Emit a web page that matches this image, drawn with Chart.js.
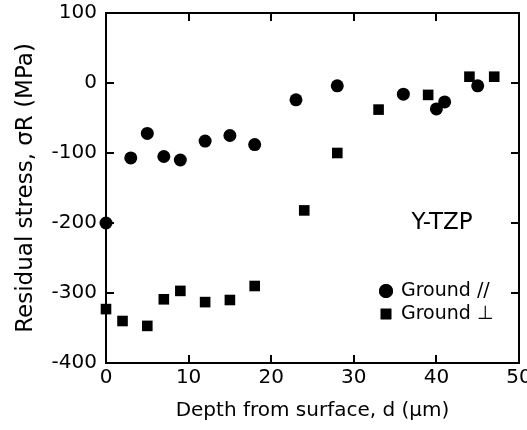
<!DOCTYPE html>
<html>
<head>
<meta charset="utf-8">
<script src="https://cdn.jsdelivr.net/npm/chart.js@4"></script>
<style>
  html, body { margin: 0; padding: 0; background: #fff; }
  #wrap { width: 527px; height: 430px; }
</style>
</head>
<body>
<div id="wrap"><canvas id="stress-chart"></canvas></div>
<script>
    // Ground // (parallel)
    const parDepth  = [0, 3, 5, 7, 9, 12, 15, 18, 23, 28, 36, 40, 41, 45];
    const parStress = [-200, -107, -72, -105, -110, -83, -75, -88, -24, -4, -16, -37, -27, -4];
    // Ground ⊥ (perpendicular)
    const perpDepth  = [0, 2, 5, 7, 9, 12, 15, 18, 24, 28, 33, 39, 44, 47];
    const perpStress = [-323, -340, -347, -309, -297, -313, -310, -290, -182, -100, -38, -17, 9, 9];

    const seriesLabels = ['Ground //', 'Ground ⊥'];
    const xTicks = [0, 10, 20, 30, 40, 50];
    const yTicks = [-400, -300, -200, -100, 0, 100];

    const FONT = 'DejaVu Sans';

    function toPoints(xs, ys) {
        return xs.map((x, i) => ({x: x, y: ys[i]}));
    }

    // ticks on inner side of the frame
    function frameAxis(pos, min, max, showTicks, size) {
        return {
            type: 'linear',
            position: pos,
            min: min,
            max: max,
            afterBuildTicks: (s) => {
                const vals = (pos === 'bottom' || pos === 'top') ? xTicks : yTicks;
                s.ticks = vals.map(v => ({value: v}));
            },
            afterFit: (s) => {
                if (pos === 'bottom' || pos === 'top') s.height = size; else s.width = size;
                // no extra room for overhanging labels
                s.paddingLeft = s.paddingRight = s.paddingTop = s.paddingBottom = 0;
            },
            border: {display: true, color: '#000', width: 2},
            grid: {drawOnChartArea: false, drawTicks: true, tickLength: -8, color: '#000', lineWidth: 2},
            ticks: {display: showTicks, color: '#000', font: {family: FONT, size: 20},
                    padding: (pos === 'left') ? 17 : 11, maxRotation: 0, autoSkip: false}
        };
    }

    // legend + label drawn inside the plot
    const insideText = {
        id: 'insideText',
        afterDatasetsDraw(chart) {
            const ctx = chart.ctx;
            ctx.save();
            ctx.fillStyle = '#000';
            ctx.font = '23px ' + FONT;
            ctx.textBaseline = 'middle';
            ctx.textAlign = 'center';
            ctx.fillText('Y-TZP', 442, 223);
            ctx.font = '19px ' + FONT;
            ctx.textAlign = 'left';
            const rows = [{y: 291, style: 'circle', r: 7}, {y: 314, style: 'rect', r: 7.5}];
            rows.forEach((row, i) => {
                Chart.helpers.drawPoint(ctx, {pointStyle: row.style, radius: row.r, borderWidth: 0}, 386, row.y);
                ctx.fill();
                ctx.fillText(seriesLabels[i], 401, row.y);
            });
            ctx.restore();
        }
    };

    const ctx = document.getElementById('stress-chart');
    const stressChart = new Chart(ctx, {
        type: 'scatter',
        data: {
            datasets: [
                {
                    label: seriesLabels[0],
                    data: toPoints(parDepth, parStress),
                    pointStyle: 'circle',
                    pointRadius: 6.5,
                    backgroundColor: '#000',
                    borderColor: '#000',
                    borderWidth: 0,
                    clip: false
                },
                {
                    label: seriesLabels[1],
                    data: toPoints(perpDepth, perpStress),
                    pointStyle: 'rect',
                    pointRadius: 7.5,
                    backgroundColor: '#000',
                    borderColor: '#000',
                    borderWidth: 0,
                    clip: false
                }
            ]
        },
        options: {
            responsive: true,
            maintainAspectRatio: false,
            animation: false,
            layout: {padding: 0},
            plugins: {legend: {display: false}, tooltip: {enabled: false}},
            scales: {
                x: Object.assign(frameAxis('bottom', 0, 50, true, 67), {
                    title: {display: true, text: 'Depth from surface, d (\u03bcm)', color: '#000',
                            font: {family: FONT, size: 20}, padding: {top: 0, bottom: 7}}
                }),
                y: Object.assign(frameAxis('left', -400, 100, true, 106), {
                    title: {display: true, text: 'Residual stress, \u03c3R (MPa)', color: '#000',
                            font: {family: FONT, size: 23}, padding: {top: 12, bottom: 0}}
                }),
                x2: frameAxis('top', 0, 50, false, 13),
                y2: frameAxis('right', -400, 100, false, 8)
            }
        },
        plugins: [insideText]
    });
</script>
</body>
</html>
